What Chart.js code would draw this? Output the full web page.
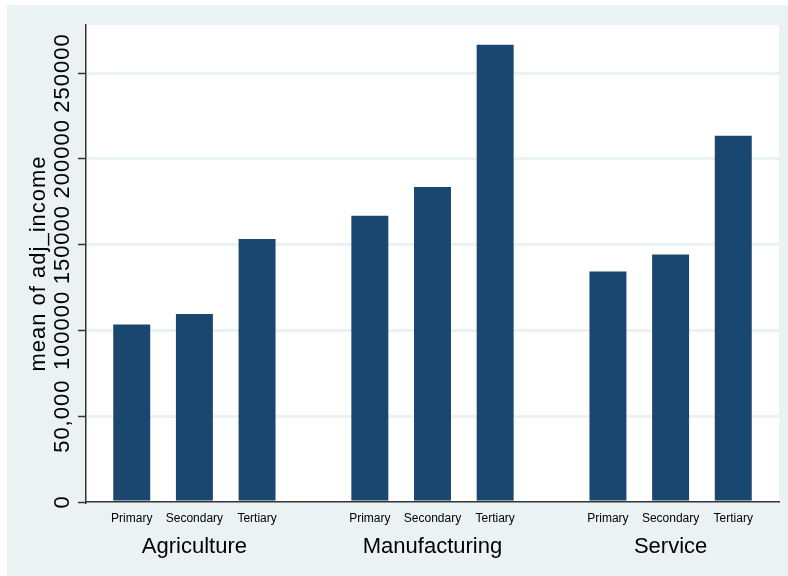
<!DOCTYPE html>
<html>
<head>
<meta charset="utf-8">
<script src="https://cdn.jsdelivr.net/npm/chart.js@4/dist/chart.umd.min.js"></script>
<style>
  body { margin: 0; background: #fff; }
  canvas { display: block; }
</style>
</head>
<body>
<canvas id="myChart" width="788" height="576"></canvas>
<script>
var sectors = ['Agriculture', 'Manufacturing', 'Service'];
var levels = ['Primary', 'Secondary', 'Tertiary'];

// mean of adj_income, one entry per education level
var agriculture = [103400, 109600, 153300];
var manufacturing = [166900, 183600, 266500];
var service = [134300, 144200, 213500];

var yTickValues = [0, 50000, 100000, 150000, 200000, 250000];
var yTickLabels = ['0', '50,000', '100000', '150000', '200000', '250000'];
var yTitle = 'mean of adj_income';

var bg = '#EAF2F3';
var barColor = '#1A476F';
var fontFamily = '"Liberation Sans", Arial, sans-serif';

// bars sit one unit apart inside a sector, sectors are spread a bit wider
var groupStep = 3.8;
var series = [agriculture, manufacturing, service];
var points = [];
var barTicks = [];
var groupTicks = [];
series.forEach(function(vals, g) {
  vals.forEach(function(v, l) {
    var x = g * groupStep + l;
    points.push({x: x, y: v});
    barTicks.push(x);
  });
  groupTicks.push(g * groupStep + 1);
});
var xMin = -0.73;
var xMax = (series.length - 1) * groupStep + 2 + 0.73;

var backdrop = {
  id: 'backdrop',
  beforeDraw: function(chart) {
    var c = chart.ctx, a = chart.chartArea;
    c.save();
    c.fillStyle = '#fff';
    c.fillRect(0, 0, chart.width, chart.height);
    c.fillStyle = bg;
    c.fillRect(7, 5, chart.width - 7, chart.height - 5);
    c.fillStyle = '#fff';
    c.fillRect(a.left, a.top, a.right - a.left, a.bottom - a.top);
    c.restore();
  }
};

// vertical y labels and title, placed from the y scale
var yText = {
  id: 'yText',
  afterDraw: function(chart) {
    var c = chart.ctx, s = chart.scales.y, a = chart.chartArea;
    c.save();
    c.fillStyle = '#000';
    c.textAlign = 'center';
    c.textBaseline = 'middle';
    c.font = '22px ' + fontFamily;
    c.letterSpacing = '1px';
    yTickValues.forEach(function(v, i) {
      c.save();
      c.translate(63, s.getPixelForValue(v));
      c.rotate(-Math.PI / 2);
      c.fillText(yTickLabels[i], 0, 0);
      c.restore();
    });
    c.save();
    c.translate(39, (a.top + a.bottom) / 2);
    c.rotate(-Math.PI / 2);
    c.fillText(yTitle, 0, 0);
    c.restore();
    c.restore();
  }
};

var ctx = document.getElementById('myChart').getContext('2d');

var myChart = new Chart(ctx, {
  type: 'bar',
  data: {
    datasets: [{
      label: yTitle,
      data: points,
      backgroundColor: barColor,
      borderWidth: 0,
      barPercentage: 0.59,
      categoryPercentage: 1
    }]
  },
  options: {
    responsive: false,
    animation: false,
    layout: { padding: { top: 25, right: 9, left: 0, bottom: 0 } },
    scales: {
      x: {
        type: 'linear',
        min: xMin,
        max: xMax,
        offset: false,
        weight: 0,
        afterBuildTicks: function(scale) {
          scale.ticks = barTicks.map(function(v) { return {value: v}; });
        },
        afterFit: function(scale) { scale.height = 30; },
        grid: { display: false, drawTicks: false },
        border: { display: true, color: '#333', width: 1.5 },
        ticks: {
          autoSkip: false,
          maxRotation: 0,
          padding: 9,
          color: '#000',
          font: { family: fontFamily, size: 12 },
          callback: function(value, index) { return levels[index % levels.length]; }
        }
      },
      x2: {
        type: 'linear',
        position: 'bottom',
        min: xMin,
        max: xMax,
        offset: false,
        weight: 1,
        afterBuildTicks: function(scale) {
          scale.ticks = groupTicks.map(function(v) { return {value: v}; });
        },
        afterFit: function(scale) { scale.height = 44; },
        grid: { display: false, drawTicks: false },
        border: { display: false },
        ticks: {
          autoSkip: false,
          maxRotation: 0,
          padding: 2,
          color: '#000',
          font: { family: fontFamily, size: 22 },
          callback: function(value, index) { return sectors[index]; }
        }
      },
      y: {
        min: 0,
        max: 278000,
        afterBuildTicks: function(scale) {
          scale.ticks = yTickValues.map(function(v) { return {value: v}; });
        },
        afterFit: function(scale) { scale.width = 86; },
        grid: {
          color: function(c) { return c.tick && c.tick.value === 0 ? 'rgba(0,0,0,0)' : bg; },
          lineWidth: 3,
          drawTicks: true,
          tickLength: 8,
          tickColor: '#333',
          tickWidth: 1.5
        },
        border: { display: true, color: '#333', width: 1.5 },
        ticks: { display: false }
      }
    },
    plugins: {
      legend: { display: false },
      tooltip: { enabled: false }
    }
  },
  plugins: [backdrop, yText]
});
</script>
</body>
</html>
